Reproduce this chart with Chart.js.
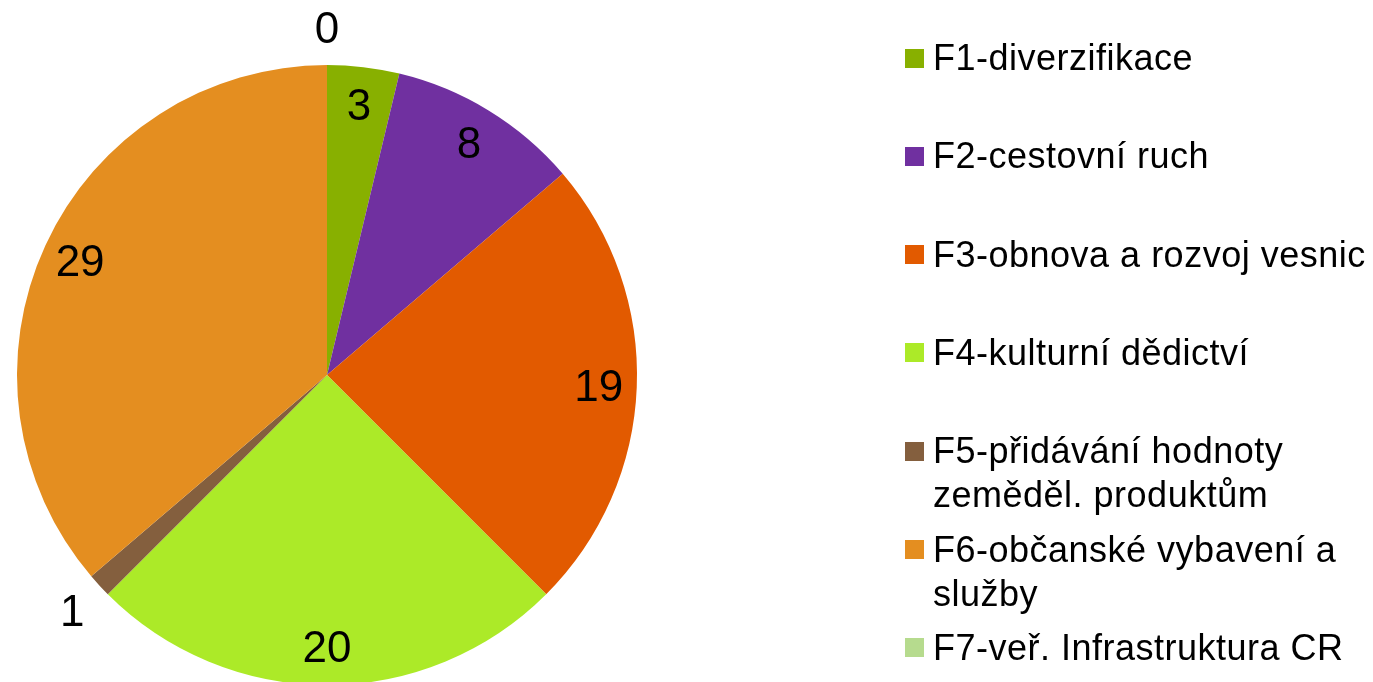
<!DOCTYPE html>
<html>
<head>
<meta charset="utf-8">
<script src="https://cdn.jsdelivr.net/npm/chart.js@4/dist/chart.umd.min.js"></script>
<style>
  html, body { margin: 0; padding: 0; background: #fff; overflow: hidden; width: 1373px; height: 682px; }
  #wrap { position: absolute; left: 0; top: 0; width: 1373px; height: 750px; }
  #legend { position: absolute; left: 0; top: 0; font-family: "Liberation Sans", Arial, sans-serif; font-size: 36px; color: #000; letter-spacing: 0.5px; }
  .item { position: absolute; left: 933px; line-height: 44px; white-space: nowrap; }
  .box { position: absolute; width: 19px; height: 19px; }
</style>
</head>
<body>
<div id="wrap"><canvas id="c" width="1373" height="750"></canvas></div>
<div id="legend"></div>
<script>
const categories = [
  ["F1-diverzifikace"],
  ["F2-cestovní ruch"],
  ["F3-obnova a rozvoj vesnic"],
  ["F4-kulturní dědictví"],
  ["F5-přidávání hodnoty", "zeměděl. produktům"],
  ["F6-občanské vybavení a", "služby"],
  ["F7-veř. Infrastruktura CR"]
];
const values = [3, 8, 19, 20, 1, 29, 0];
const colors = ["#88B000", "#7030A0", "#E25A00", "#ACEA28", "#845F3E", "#E48E20", "#B6DB8E"];

const labelPlugin = {
  id: 'sliceLabels',
  afterDatasetsDraw(chart) {
    const ctx = chart.ctx;
    const meta = chart.getDatasetMeta(0);
    ctx.save();
    ctx.font = '44px "Liberation Sans", Arial, sans-serif';
    ctx.fillStyle = '#000';
    ctx.textAlign = 'center';
    ctx.textBaseline = 'middle';
    meta.data.forEach((arc, i) => {
      const v = chart.data.datasets[0].data[i];
      const p = arc.getProps(['x', 'y', 'startAngle', 'endAngle', 'outerRadius'], true);
      const mid = (p.startAngle + p.endAngle) / 2;
      const r = v < 2 ? p.outerRadius + 37 : p.outerRadius * 0.877;
      const x = p.x + Math.cos(mid) * r;
      const y = p.y + Math.sin(mid) * r + 3;
      ctx.fillText(String(v), x, y);
    });
    ctx.restore();
  }
};

new Chart(document.getElementById('c'), {
  type: 'pie',
  data: {
    labels: categories,
    datasets: [{ data: values, backgroundColor: colors, borderWidth: 0 }]
  },
  options: {
    responsive: false,
    animation: false,
    radius: 310,
    layout: { padding: { left: 0, right: 719, top: 0, bottom: 0 } },
    plugins: { legend: { display: false }, tooltip: { enabled: false } }
  },
  plugins: [labelPlugin]
});

const legend = document.getElementById('legend');
const pitch = 98.3;
categories.forEach((lines, i) => {
  const cy = 58 + i * pitch;
  const item = document.createElement('div');
  item.className = 'item';
  item.style.top = (cy - 22) + 'px';
  item.innerHTML = lines.join('<br>');
  const box = document.createElement('div');
  box.className = 'box';
  box.style.left = '905px';
  box.style.top = (cy - 9.5) + 'px';
  box.style.background = colors[i];
  legend.appendChild(box);
  legend.appendChild(item);
});
</script>
</body>
</html>
